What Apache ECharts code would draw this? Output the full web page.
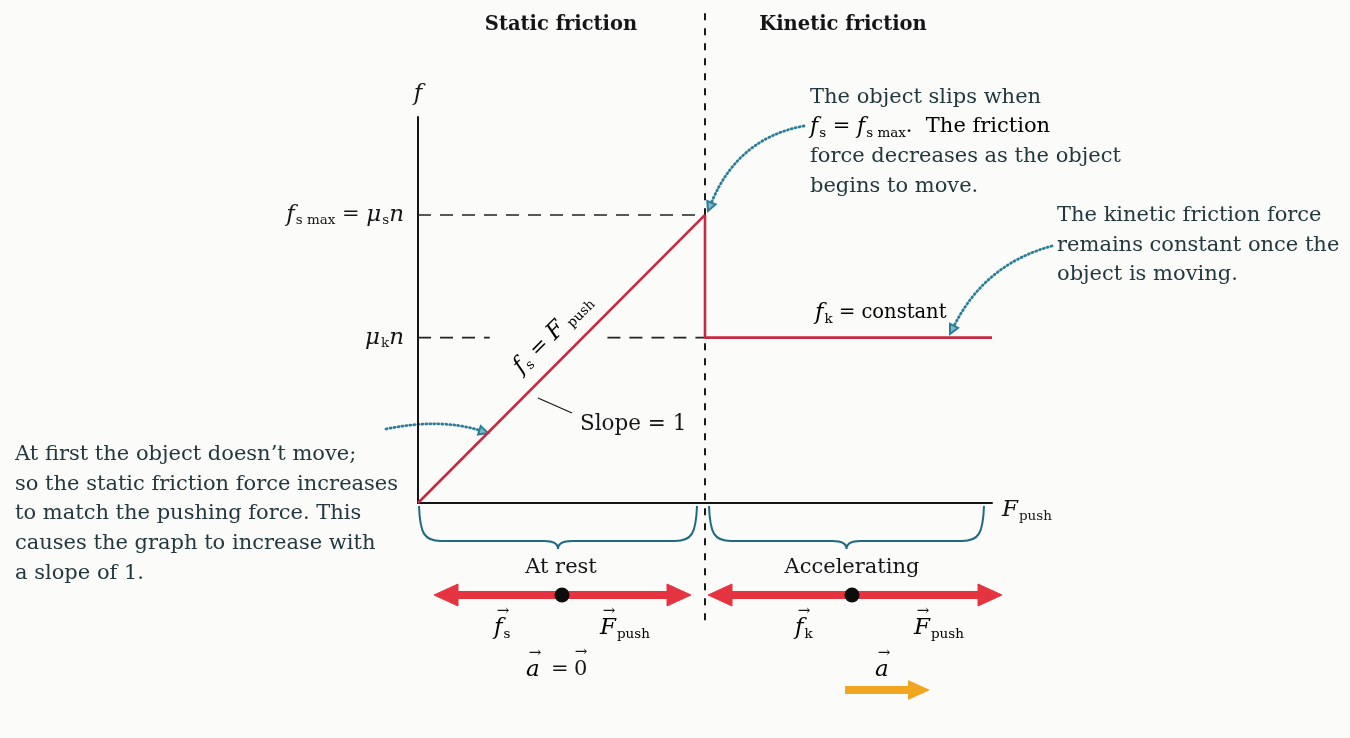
<!DOCTYPE html>
<html>
<head>
<meta charset="utf-8">
<script src="https://cdn.jsdelivr.net/npm/echarts@6/dist/echarts.min.js"></script>
<style>
  html, body { margin: 0; padding: 0; background: #fbfbfa; }
  #chart { width: 1350px; height: 738px; }
</style>
</head>
<body>
<div id="chart"></div>
<script>
// friction curve, in units of F_push (slope 1 => same scale on both axes)
const xMax = 100
const yMax = 67
const slipX = 50
const fsMax = 50
const fkLevel = 28.7
const staticPart = [[0, 0], [slipX, fsMax]]
const kineticPart = [[slipX, fsMax], [slipX, fkLevel], [xMax, fkLevel]]
const fsMaxGuide = [[0, fsMax], [slipX, fsMax]]
const fkGuideLeft = [[0, fkLevel], [12.5, fkLevel]]
const fkGuideRight = [[33, fkLevel], [slipX, fkLevel]]
const divider = [[slipX, 85], [slipX, -21.3]]
const regions = [[0, slipX], [slipX, xMax]]
const yTickValues = [fkLevel, fsMax]

const serif = '"DejaVu Serif", "Liberation Serif", serif'
const ink = '#151515'
const noteInk = '#22383d'
const teal = '#2a7e98'
const red = '#c62a42'

const chart = echarts.init(document.getElementById('chart'))

const sub = { fontFamily: serif, fontSize: 13.5, color: ink, lineHeight: 12, verticalAlign: 'bottom', padding: [0, 0, 0, 1] }
const it = { fontFamily: serif, fontStyle: 'italic', fontSize: 23, color: ink, lineHeight: 26 }
const rm = { fontFamily: serif, fontSize: 21, color: ink, lineHeight: 26 }

function dottedArrow(x1, y1, cx, cy, x2, y2) {
  const ang = Math.atan2(y2 - cy, x2 - cx)
  const L = 9, W = 4.5
  const bx = x2 - L * Math.cos(ang), by = y2 - L * Math.sin(ang)
  const px = -Math.sin(ang) * W, py = Math.cos(ang) * W
  return [
    {
      type: 'bezierCurve',
      shape: { x1: x1, y1: y1, cpx1: cx, cpy1: cy, x2: bx, y2: by },
      style: { stroke: teal, lineWidth: 2.8, lineDash: [1, 3], lineCap: 'round', fill: null }
    },
    {
      type: 'polygon',
      shape: { points: [[x2, y2], [bx + px, by + py], [bx - px, by - py]] },
      style: { fill: '#7fb9c9', stroke: teal, lineWidth: 2 }
    }
  ]
}

function forceArrow(xa, xb, y, color, th, hl, hw) {
  return {
    type: 'polygon',
    shape: {
      points: [
        [xa, y], [xa + hl, y - hw], [xa + hl, y - th / 2], [xb - hl, y - th / 2], [xb - hl, y - hw],
        [xb, y], [xb - hl, y + hw], [xb - hl, y + th / 2], [xa + hl, y + th / 2], [xa + hl, y + hw]
      ]
    },
    style: { fill: color, stroke: color, lineWidth: 1 }
  }
}

function singleArrow(xa, xb, y, color, th, hl, hw) {
  return {
    type: 'polygon',
    shape: {
      points: [[xa, y - th / 2], [xb - hl, y - th / 2], [xb - hl, y - hw], [xb, y], [xb - hl, y + hw], [xb - hl, y + th / 2], [xa, y + th / 2]]
    },
    style: { fill: color }
  }
}

function overArrow(x, y) {
  return { type: 'text', x: x, y: y, style: { text: '\u2192', fontFamily: serif, fontSize: 15, fill: ink, align: 'center', verticalAlign: 'middle' } }
}

function vecText(x, y, letter, subscript) {
  return {
    type: 'group',
    children: [
      { type: 'text', x: x, y: y, style: { text: '{i|' + letter + '}' + (subscript ? '{s|' + subscript + '}' : ''), rich: { i: it, s: sub }, verticalAlign: 'middle' } },
      overArrow(x + 9, y - 17)
    ]
  }
}

function note(x, y, lines) {
  return {
    type: 'text', x: x, y: y,
    style: { text: lines.join('\n'), fontFamily: serif, fontSize: 21, lineHeight: 29.6, fill: noteInk, verticalAlign: 'top' }
  }
}

const noteRich = {
  i: Object.assign({}, it, { color: noteInk, fontSize: 22 }),
  s: Object.assign({}, sub, { color: noteInk }),
  r: Object.assign({}, rm, { color: noteInk, fontSize: 21 })
}

const graphics = [
  { type: 'text', x: 561, y: 25, style: { text: 'Static friction', fontFamily: serif, fontWeight: 'bold', fontSize: 19.5, fill: ink, align: 'center', verticalAlign: 'middle' } },
  { type: 'text', x: 843, y: 25, style: { text: 'Kinetic friction', fontFamily: serif, fontWeight: 'bold', fontSize: 19.5, fill: ink, align: 'center', verticalAlign: 'middle' } },
  note(810, 83, ['The object slips when', '', 'force decreases as the object', 'begins to move.']),
  { type: 'text', x: 810, y: 127, style: { text: '{i|f}{s|s}{r| = }{i|f}{s|s max}{r|.  The friction}', rich: noteRich, verticalAlign: 'middle' } },
  note(1057, 201, ['The kinetic friction force', 'remains constant once the', 'object is moving.']),
  note(15, 440, ['At first the object doesn\u2019t move;', 'so the static friction force increases', 'to match the pushing force. This', 'causes the graph to increase with', 'a slope of 1.']),
  ...dottedArrow(804, 126, 738, 138, 708, 211),
  ...dottedArrow(1052, 246, 985, 264, 950, 334),
  ...dottedArrow(386, 429, 440, 418, 488, 433),
  { type: 'text', x: 553, y: 334, rotation: Math.PI / 4, style: { text: '{i|f}{s|s}{r| = }{i|F}{s| push}', rich: { i: it, s: sub, r: rm }, align: 'center', verticalAlign: 'middle' } },
  { type: 'line', shape: { x1: 538, y1: 398, x2: 572, y2: 413 }, style: { stroke: ink, lineWidth: 1.2 } },
  { type: 'text', x: 580, y: 424, style: { text: 'Slope = 1', fontFamily: serif, fontSize: 21.5, fill: ink, verticalAlign: 'middle' } },
  { type: 'text', x: 815, y: 313, style: { text: '{i|f}{s|k}{r| = constant}', rich: { i: it, s: sub, r: Object.assign({}, rm, { fontSize: 19.5 }) }, verticalAlign: 'middle' } },
  { type: 'text', x: 561, y: 568, style: { text: 'At rest', fontFamily: serif, fontSize: 21, fill: ink, align: 'center', verticalAlign: 'middle' } },
  { type: 'text', x: 852, y: 568, style: { text: 'Accelerating', fontFamily: serif, fontSize: 21, fill: ink, align: 'center', verticalAlign: 'middle' } },
  forceArrow(434, 691, 595, '#e5343f', 7, 24, 11),
  forceArrow(708, 1002, 595, '#e5343f', 7, 24, 11),
  { type: 'circle', shape: { cx: 562, cy: 595, r: 7.5 }, style: { fill: '#0d0d0d' } },
  { type: 'circle', shape: { cx: 852, cy: 595, r: 7.5 }, style: { fill: '#0d0d0d' } },
  vecText(494, 628, 'f', 's'),
  vecText(600, 628, 'F', 'push'),
  vecText(795, 628, 'f', 'k'),
  vecText(914, 628, 'F', 'push'),
  vecText(526, 670, 'a', ''),
  { type: 'text', x: 551, y: 670, style: { text: '=', fontFamily: serif, fontSize: 21, fill: ink, verticalAlign: 'middle' } },
  { type: 'text', x: 574, y: 670, style: { text: '0', fontFamily: serif, fontSize: 21, fill: ink, verticalAlign: 'middle' } },
  overArrow(581, 652),
  vecText(875, 670, 'a', ''),
  singleArrow(845, 930, 690, '#f2a51f', 8, 22, 10)
]

chart.setOption({
  backgroundColor: '#fbfbfa',
  animation: false,
  grid: { left: 418, right: 358, top: 117, bottom: 235 },
  xAxis: {
    type: 'value', min: 0, max: xMax,
    name: '{i|F}{s|push}',
    nameGap: 10,
    nameTextStyle: { rich: { i: it, s: sub }, verticalAlign: 'middle', padding: [14, 0, 0, 0] },
    axisLine: { lineStyle: { color: ink, width: 2 } },
    axisTick: { show: false },
    axisLabel: { show: false },
    splitLine: { show: false }
  },
  yAxis: {
    type: 'value', min: 0, max: yMax,
    name: '{i|f}',
    nameGap: 10,
    nameTextStyle: { rich: { i: it }, align: 'center' },
    axisLine: { lineStyle: { color: ink, width: 2 } },
    axisTick: { show: false },
    splitLine: { show: false },
    axisLabel: {
      margin: 14,
      customValues: yTickValues,
      formatter: v => v === fsMax
        ? '{i|f}{s|s max}{r| = }{i|\u03bc}{s|s}{i|n}'
        : '{i|\u03bc}{s|k}{i|n}',
      rich: { i: it, s: sub, r: rm }
    }
  },
  series: [
    { type: 'line', data: fsMaxGuide, symbol: 'none', silent: true, lineStyle: { color: '#222', width: 1.6, type: [13, 9] } },
    { type: 'line', data: fkGuideLeft, symbol: 'none', silent: true, lineStyle: { color: '#222', width: 1.6, type: [13, 9] } },
    { type: 'line', data: fkGuideRight, symbol: 'none', silent: true, lineStyle: { color: '#222', width: 1.6, type: [13, 9] } },
    { type: 'line', data: divider, symbol: 'none', silent: true, clip: false, lineStyle: { color: '#1a1a1a', width: 2, type: [7, 8] } },
    { type: 'line', data: staticPart, symbol: 'none', lineStyle: { color: red, width: 2.6 } },
    { type: 'line', data: kineticPart, symbol: 'none', lineStyle: { color: red, width: 2.6 } },
    {
      type: 'custom',
      clip: false,
      data: regions,
      renderItem: function (params, api) {
        const a = api.coord([api.value(0), 0])
        const b = api.coord([api.value(1), 0])
        const xa = a[0] + (api.value(0) === 0 ? 1 : 4), xb = b[0] - 8
        const xm = (xa + xb) / 2
        const y0 = a[1] + 3, y1 = a[1] + 38, yt = a[1] + 46
        const d = 'M' + xa + ' ' + y0 +
          ' C' + (xa + 1) + ' ' + (y1 - 8) + ' ' + (xa + 5) + ' ' + y1 + ' ' + (xa + 22) + ' ' + y1 +
          ' L' + (xm - 14) + ' ' + y1 +
          ' C' + (xm - 5) + ' ' + y1 + ' ' + xm + ' ' + (y1 + 2) + ' ' + xm + ' ' + yt +
          ' C' + xm + ' ' + (y1 + 2) + ' ' + (xm + 5) + ' ' + y1 + ' ' + (xm + 14) + ' ' + y1 +
          ' L' + (xb - 22) + ' ' + y1 +
          ' C' + (xb - 5) + ' ' + y1 + ' ' + (xb - 1) + ' ' + (y1 - 8) + ' ' + xb + ' ' + y0
        return { type: 'path', shape: { pathData: d }, style: { fill: 'none', stroke: '#1f6a82', lineWidth: 2 } }
      }
    }
  ],
  graphic: graphics
})
</script>
</body>
</html>
